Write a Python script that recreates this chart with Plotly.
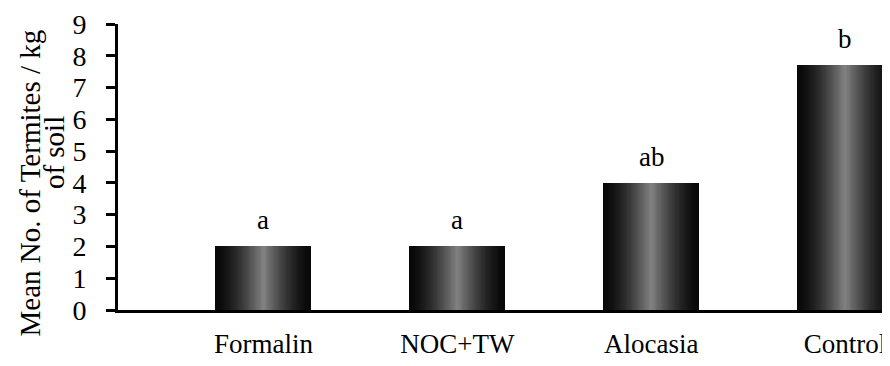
import plotly.graph_objects as go

categories = ["Formalin", "NOC+TW", "Alocasia", "Control"]
means = [2.0, 2.0, 4.0, 7.7]
letters = ["a", "a", "ab", "b"]
y_ticks = list(range(0, 10))
y_title_lines = ["Mean No. of Termites / kg", "of soil"]

FONT = "Liberation Serif, Times New Roman, serif"
x_pos = list(range(len(categories)))

fig = go.Figure()

# cylinder-like shading: stacked overlay bars of shrinking width, lighter toward centre
BAR_W = 0.495
N = 40
for k in range(N):
    t = k / N
    w = BAR_W * (1 - t)
    light = int(8 + 125 * (t ** 1.5))
    col = f"rgb({light},{light},{light})"
    fig.add_trace(go.Bar(
        x=x_pos, y=means, width=w, marker=dict(color=col, line=dict(width=0)),
        hoverinfo="skip" if k else "y", showlegend=False,
    ))

for i, (v, lab) in enumerate(zip(means, letters)):
    fig.add_annotation(x=i, y=v, text=lab, showarrow=False, xref="x", yref="y",
                       yanchor="bottom", yshift=9,
                       font=dict(family=FONT, size=27, color="black"))

# plot area: 772 px wide (paper x), 286 px high
fig.add_annotation(text=y_title_lines[0], textangle=-90, showarrow=False,
                   xref="paper", yref="paper", x=-0.114, y=0.446,
                   xanchor="center", yanchor="middle",
                   font=dict(family=FONT, size=29, color="black"))
fig.add_annotation(text=y_title_lines[1], textangle=-90, showarrow=False,
                   xref="paper", yref="paper", x=-0.082, y=0.551,
                   xanchor="center", yanchor="middle",
                   font=dict(family=FONT, size=29, color="black"))

# page body has an 8px margin, so the figure is 8px smaller and margins reduced
fig.update_layout(
    width=882, height=358,
    margin=dict(l=110, r=0, t=16, b=56, autoexpand=False),
    paper_bgcolor="white", plot_bgcolor="white",
    barmode="overlay", bargap=0,
    font=dict(family=FONT, size=27, color="black"),
    xaxis=dict(
        range=[-0.75, 3.232], tickvals=x_pos, ticktext=categories,
        showline=True, linewidth=3, linecolor="black", ticks="",
        showgrid=False, zeroline=False, ticklabelstandoff=8, automargin=False,
        tickfont=dict(family=FONT, size=27, color="black"),
    ),
    yaxis=dict(
        range=[0, 9], tickvals=y_ticks, showline=True, linewidth=3,
        linecolor="black", ticks="outside", ticklen=9, tickwidth=2.5,
        tickcolor="black", showgrid=False, zeroline=False, automargin=False,
        ticklabelstandoff=14,
        tickfont=dict(family=FONT, size=28, color="black"),
    ),
)

fig.write_html("out.html")
